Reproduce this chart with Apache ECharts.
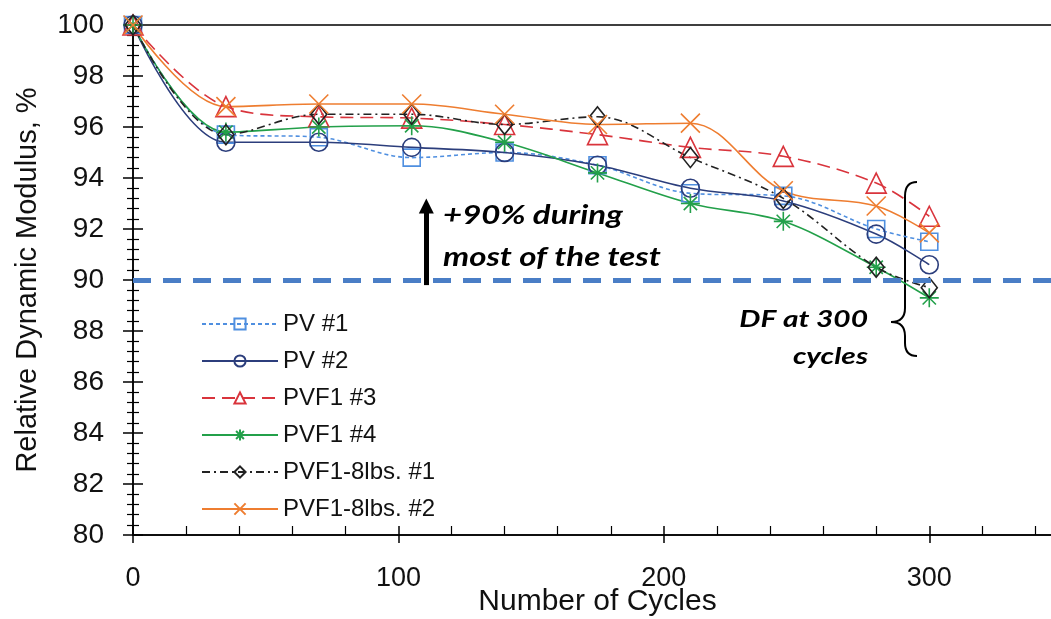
<!DOCTYPE html>
<html>
<head>
<meta charset="utf-8">
<script src="https://cdn.jsdelivr.net/npm/echarts@6/dist/echarts.min.js"></script>
<style>
  html, body { margin: 0; padding: 0; background: #fff; }
  #main { width: 1051px; height: 619px; }
</style>
</head>
<body>
<div id="main"></div>
<script>
var dom = document.getElementById('main')
var chart = echarts.init(dom)

// cycles at which each specimen was measured
var cycles = [0, 35, 70, 105, 140, 175, 210, 245, 280, 300];

// relative dynamic modulus, %
var pv1 = [100, 95.7, 95.6, 94.8, 95.0, 94.5, 93.4, 93.3, 92.0, 91.5];
var pv2 = [100, 95.4, 95.4, 95.2, 95.0, 94.5, 93.6, 93.1, 91.8, 90.6];
var pvf1_3 = [100, 96.8, 96.4, 96.35, 96.1, 95.7, 95.2, 94.85, 93.8, 92.5];
var pvf1_4 = [100, 95.8, 96.0, 96.05, 95.4, 94.2, 93.0, 92.3, 90.5, 89.3];
var pvf1_8_1 = [100, 95.7, 96.5, 96.5, 96.1, 96.4, 94.8, 93.2, 90.5, 89.7];
var pvf1_8_2 = [100, 96.8, 96.9, 96.9, 96.5, 96.1, 96.15, 93.5, 92.9, 91.85];

var names = ['PV #1', 'PV #2', 'PVF1 #3', 'PVF1 #4', 'PVF1-8lbs. #1', 'PVF1-8lbs. #2'];
var threshold = 90;

function pairs(vals) {
    return cycles.map((c, i) => [c, vals[i]]);
}

var starPath = 'path://M5,0L5,10M0,5L10,5M1.5,1.5L8.5,8.5M8.5,1.5L1.5,8.5';
var crossPath = 'path://M0,0L10,10M10,0L0,10';

function lineSeries(name, vals, color, dash, symbol, size) {
    return {
        type: 'line',
        name: name,
        data: pairs(vals),
        smooth: 0.35,
        symbol: symbol,
        symbolSize: size,
        lineStyle: { color: color, width: 1.6, type: dash },
        itemStyle: { color: 'rgba(255,255,255,0)', borderColor: color, borderWidth: 1.6 },
        emphasis: { disabled: true },
        z: 3
    };
}

var series = [
    lineSeries(names[0], pv1, '#4f8fe0', [4, 3], 'rect', 17),
    lineSeries(names[1], pv2, '#2c3e7c', 'solid', 'circle', 18),
    lineSeries(names[2], pvf1_3, '#d9343c', [13, 7], 'triangle', 20),
    lineSeries(names[3], pvf1_4, '#23a04a', 'solid', starPath, 19),
    lineSeries(names[4], pvf1_8_1, '#222222', [8, 4, 2, 4], 'diamond', [16, 20]),
    lineSeries(names[5], pvf1_8_2, '#ee7d30', 'solid', crossPath, 19)
];

// 90% threshold and arrow
series.push({
    type: 'line',
    name: 'ann',
    data: [],
    markLine: {
        silent: true,
        symbol: 'none',
        label: { show: false },
        data: [
            {
                yAxis: threshold,
                lineStyle: { color: '#4a7ec6', width: 5, type: [18, 12] }
            },
            [
                { coord: [110.5, 89.8], symbol: 'none' },
                { coord: [110.5, 92.9], symbol: 'triangle', symbolSize: [15, 15] }
            ]
        ],
        lineStyle: { color: '#000', width: 5, type: 'solid' }
    },
    z: 2
});

var braceStyle = { stroke: '#000', lineWidth: 2, fill: null };
var noteFont = 'italic bold 26px Lato';

var baseX = {
    type: 'value',
    min: 0,
    max: 350,
    interval: 100,
    position: 'bottom',
    splitLine: { show: false }
};
var baseY = {
    type: 'value',
    min: 80,
    max: 100,
    interval: 2,
    position: 'left',
    splitLine: { show: false }
};

var option = {
    animation: false,
    grid: {
        left: 133, top: 25, width: 929, height: 510,
        outerBoundsMode: 'none',
        show: true, borderColor: '#000', borderWidth: 1.5
    },
    legend: {
        data: names,
        orient: 'vertical',
        left: 196,
        top: 307,
        itemWidth: 76,
        itemHeight: 14,
        itemGap: 13,
        textStyle: { fontFamily: 'Liberation Sans', fontSize: 24, lineHeight: 24, color: '#111' }
    },
    xAxis: [
        Object.assign({}, baseX, {
            name: 'Number of Cycles',
            nameLocation: 'middle',
            nameMoveOverlap: false,
            nameGap: 52,
            nameTextStyle: { fontFamily: 'Liberation Sans', fontSize: 30, color: '#111' },
            axisLine: { lineStyle: { color: '#000', width: 1.5 } },
            axisTick: { length: 8, lineStyle: { color: '#000', width: 1.5 } },
            minorTick: { show: false },
            axisLabel: { fontFamily: 'Liberation Sans', fontSize: 27, color: '#111', margin: 30, showMaxLabel: false }
        }),
        Object.assign({}, baseX, {
            axisLine: { show: false },
            axisTick: { inside: true, length: 9, lineStyle: { color: '#000', width: 1.5 } },
            minorTick: { show: true, splitNumber: 5, length: 9, lineStyle: { color: '#000', width: 1.2 } },
            axisLabel: { show: false }
        })
    ],
    yAxis: [
        Object.assign({}, baseY, {
            name: 'Relative Dynamic Modulus, %',
            nameLocation: 'middle',
            nameMoveOverlap: false,
            nameGap: 91,
            nameTextStyle: { fontFamily: 'Liberation Sans', fontSize: 29, color: '#111' },
            axisLine: { lineStyle: { color: '#000', width: 1.5 } },
            axisTick: { length: 10, lineStyle: { color: '#000', width: 1.5 } },
            minorTick: { show: true, splitNumber: 5, length: 6, lineStyle: { color: '#000', width: 1.2 } },
            axisLabel: { fontFamily: 'Liberation Sans', fontSize: 28, color: '#111', margin: 29 }
        }),
        Object.assign({}, baseY, {
            axisLine: { show: false },
            axisTick: { inside: true, length: 10, lineStyle: { color: '#000', width: 1.5 } },
            minorTick: { show: true, splitNumber: 5, length: 6, lineStyle: { color: '#000', width: 1.2 } },
            axisLabel: { show: false }
        })
    ],
    graphic: [
        { type: 'text', x: 443, y: 216, scaleX: 1.27, style: { text: '+90% during', font: noteFont, verticalAlign: 'middle', fill: '#000' } },
        { type: 'text', x: 443, y: 258, scaleX: 1.27, style: { text: 'most of the test', font: noteFont, verticalAlign: 'middle', fill: '#000' } },
        { type: 'text', x: 868, y: 320, scaleX: 1.3, style: { text: 'DF at 300', font: 'italic bold 23px Lato', align: 'right', verticalAlign: 'middle', fill: '#000' } },
        { type: 'text', x: 868, y: 357, scaleX: 1.3, style: { text: 'cycles', font: 'italic bold 23px Lato', align: 'right', verticalAlign: 'middle', fill: '#000' } },
        // curly brace beside the 300-cycle points
        { type: 'bezierCurve', shape: { x1: 917, y1: 182, cpx1: 905, cpy1: 182, x2: 905, y2: 196 }, style: braceStyle },
        { type: 'line', shape: { x1: 905, y1: 196, x2: 905, y2: 308 }, style: braceStyle },
        { type: 'bezierCurve', shape: { x1: 905, y1: 308, cpx1: 905, cpy1: 322, x2: 891, y2: 322 }, style: braceStyle },
        { type: 'bezierCurve', shape: { x1: 891, y1: 322, cpx1: 905, cpy1: 322, x2: 905, y2: 336 }, style: braceStyle },
        { type: 'line', shape: { x1: 905, y1: 336, x2: 905, y2: 343 }, style: braceStyle },
        { type: 'bezierCurve', shape: { x1: 905, y1: 343, cpx1: 905, cpy1: 356, x2: 917, y2: 356 }, style: braceStyle }
    ],
    series: series
};

chart.setOption(option)
</script>
</body>
</html>
